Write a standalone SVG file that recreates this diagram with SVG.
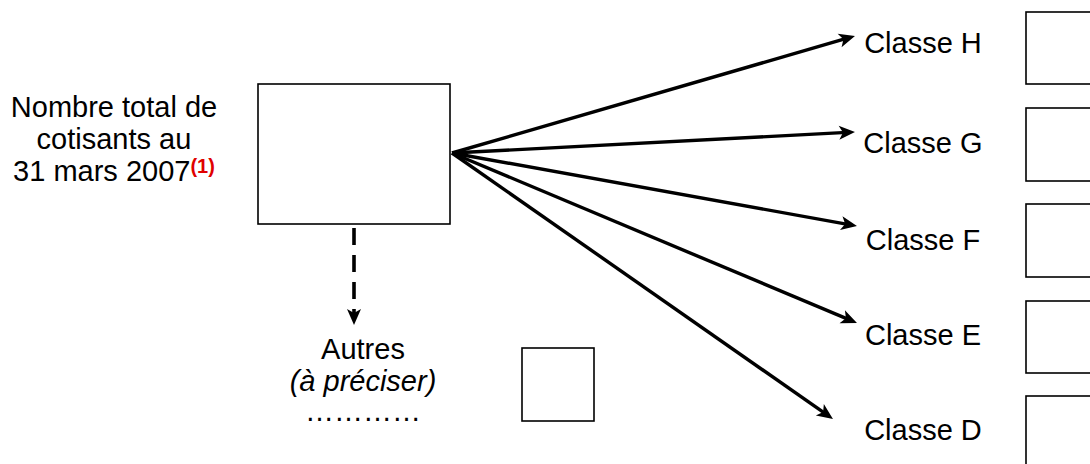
<svg xmlns="http://www.w3.org/2000/svg" width="1090" height="464" viewBox="0 0 1090 464">
<style>
  text { font-family: "Liberation Sans", Arial, sans-serif; font-size: 29px; fill: #000; }
  .box { fill: #fff; stroke: #000; stroke-width: 1.6; }
  .conn { stroke: #000; stroke-width: 3.4; fill: none; }
  .dash { stroke: #000; stroke-width: 3.6; fill: none; stroke-dasharray: 17 10; }
  .sup { font-size: 20px; font-weight: bold; fill: #e00000; }
</style>
<defs>
  <marker id="arr" viewBox="-9 -8 18 16" refX="0" refY="0" markerWidth="18" markerHeight="16" markerUnits="userSpaceOnUse" orient="auto">
    <path d="M8,0 L-8,-7 L-4,0 L-8,7 Z" fill="#000"/>
  </marker>
</defs>
<rect width="1090" height="464" fill="#fff"/>
<g id="total">
  <rect class="box" x="258" y="84" width="192" height="140"/>
  <text text-anchor="middle"><tspan x="114" y="117">Nombre total de</tspan><tspan x="114" y="149">cotisants au</tspan><tspan x="114" y="181">31 mars 2007<tspan class="sup" dy="-8">(1)</tspan></tspan></text>
</g>
<g id="autres">
  <text text-anchor="middle" x="363" y="359">Autres</text>
  <text text-anchor="middle" x="363" y="391" font-style="italic">(à préciser)</text>
  <text text-anchor="middle" x="363" y="421">…………</text>
  <rect class="box" x="522" y="348" width="72" height="73"/>
</g>
<g id="classeH">
  <text text-anchor="middle" x="923" y="53">Classe H</text>
  <rect class="box" x="1026" y="12" width="80" height="72"/>
</g>
<g id="classeG">
  <text text-anchor="middle" x="923" y="153">Classe G</text>
  <rect class="box" x="1026" y="108" width="80" height="73"/>
</g>
<g id="classeF">
  <text text-anchor="middle" x="923" y="250">Classe F</text>
  <rect class="box" x="1026" y="204" width="80" height="73"/>
</g>
<g id="classeE">
  <text text-anchor="middle" x="923" y="345">Classe E</text>
  <rect class="box" x="1026" y="301" width="80" height="72"/>
</g>
<g id="classeD">
  <text text-anchor="middle" x="923" y="440">Classe D</text>
  <rect class="box" x="1026" y="396" width="80" height="80"/>
</g>
<g id="connectors">
  <line class="conn" x1="452" y1="153" x2="847.3" y2="38.2" marker-end="url(#arr)"/>
  <line class="conn" x1="452" y1="153" x2="847.0" y2="132.4" marker-end="url(#arr)"/>
  <line class="conn" x1="452" y1="153" x2="849.1" y2="224.6" marker-end="url(#arr)"/>
  <line class="conn" x1="452" y1="153" x2="849.6" y2="319.9" marker-end="url(#arr)"/>
  <line class="conn" x1="452" y1="153" x2="826.4" y2="414.4" marker-end="url(#arr)"/>
  <line class="dash" x1="354" y1="228" x2="354" y2="317" marker-end="url(#arr)"/>
</g>
</svg>
